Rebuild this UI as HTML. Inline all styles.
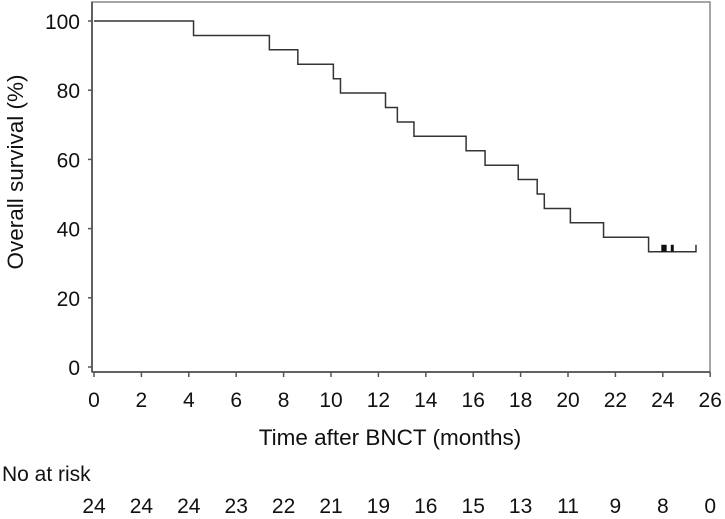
<!DOCTYPE html>
<html><head><meta charset="utf-8"><style>
body{margin:0;background:#fff;}
svg{display:block;font-family:"Liberation Sans",sans-serif;}
</style></head><body>
<svg id="chart" width="725" height="519">
<rect x="92" y="2" width="618" height="370" fill="none" stroke="#888" stroke-width="1.5"/>
<line x1="92" y1="2" x2="92" y2="372" stroke="#555" stroke-width="1.8"/>
<line x1="92" y1="372" x2="710" y2="372" stroke="#555" stroke-width="1.8"/>
<g id="yt"></g><g id="xt"></g>
<path id="curve" fill="none" stroke="#333" stroke-width="1.5"/>
<g id="cens"></g>
<text x="23" y="172" font-size="22.5" text-anchor="middle" transform="rotate(-90 23 172)" fill="#111">Overall survival (%)</text>
<text x="390" y="445" font-size="22.5" text-anchor="middle" fill="#111">Time after BNCT (months)</text>
<text x="2" y="481" font-size="21" fill="#111">No at risk</text>
<g id="risk"></g>
</svg>
<script>
const times=[0,4.2,7.4,8.6,10.1,10.4,12.3,12.8,13.5,15.7,16.5,17.9,18.7,19.0,20.1,21.5,23.4];
const surv=[100,95.8,91.7,87.5,83.3,79.2,75,70.8,66.7,62.5,58.3,54.2,50,45.8,41.7,37.5,33.3];
const endTime=25.4;
const censored=[24.0,24.1,24.4];
const xTicks=[0,2,4,6,8,10,12,14,16,18,20,22,24,26];
const yTicks=[0,20,40,60,80,100];
const atRisk=[24,24,24,23,22,21,19,16,15,13,11,9,8,0];
const NS="http://www.w3.org/2000/svg";
const X=t=>94+t*23.7, Y=v=>367-v*3.46;
function mk(tag,attrs,parent,txt){const e=document.createElementNS(NS,tag);for(const k in attrs)e.setAttribute(k,attrs[k]);if(txt!==undefined)e.textContent=txt;parent.appendChild(e);return e;}
const yt=document.getElementById('yt'),xt=document.getElementById('xt'),rk=document.getElementById('risk'),cg=document.getElementById('cens');
yTicks.forEach(v=>{
 const l=mk('line',{x1:88,x2:92,y1:Y(v),y2:Y(v),stroke:'#555','stroke-width':1.5},yt);
 
 
 const t=mk('text',{x:80,y:Y(v)+8,'font-size':21,'text-anchor':'end',fill:'#111'},yt,v);
 
 
});
xTicks.forEach((v,i)=>{
 const l=mk('line',{x1:X(v),x2:X(v),y1:372,y2:377,stroke:'#555','stroke-width':1.5},xt);
 
 
 const t=mk('text',{x:X(v),y:407,'font-size':21,'text-anchor':'middle',fill:'#111'},xt,v);
 
 
 const r=mk('text',{x:X(v),y:513,'font-size':21,'text-anchor':'middle',fill:'#111'},rk,atRisk[i]);
 
 
});
let d='M'+X(times[0])+' '+Y(surv[0]);
for(let i=1;i<times.length;i++){d+=' H'+X(times[i])+' V'+Y(surv[i]);}
d+=' H'+X(endTime)+' v-7';
document.getElementById('curve').setAttribute('d',d);
const last=surv[surv.length-1];
censored.forEach(t=>{
 const c=mk('line',{x1:X(t),x2:X(t),y1:Y(last),y2:Y(last)-7,stroke:'#111','stroke-width':3},cg);
 
 
});
</script>
</body></html>
